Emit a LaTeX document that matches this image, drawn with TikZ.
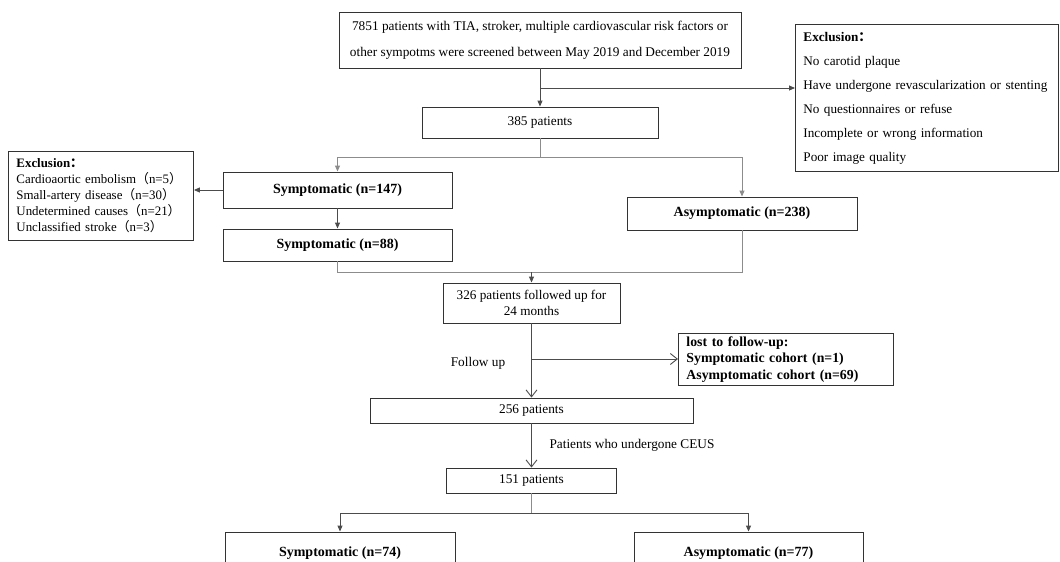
\documentclass[tikz,border=0pt]{standalone}
\usepackage{fontspec}
\setmainfont{Liberation Serif}
\newfontfamily\cjkfont{Noto Sans CJK SC}
\usetikzlibrary{arrows.meta}

\newcommand{\fwl}{{\cjkfont （}}
\newcommand{\fwr}{{\cjkfont ）}}
\newcommand{\fwc}{{\cjkfont ：}}

\begin{document}
\begin{tikzpicture}[x=1pt, y=-1pt,
  box/.style={rectangle, draw=black!80, line width=0.9pt, fill=white, inner sep=0pt, align=center, font=\fontsize{13.3}{16}\selectfont},
  boldbox/.style={box, font=\fontsize{14}{16}\selectfont\bfseries},
  listbox/.style={box, align=left, anchor=north west, inner xsep=8pt},
  line/.style={draw=black!70, line width=0.9pt},
  grayline/.style={draw=black!45, line width=0.9pt},
  arr/.style={line, -{Triangle[length=6pt, width=5pt]}},
  garr/.style={grayline, -{Triangle[length=6pt, width=5pt]}},
  varr/.style={line, -{Straight Barb[length=7pt, width=11pt]}},
  lbl/.style={font=\fontsize{13.3}{16}\selectfont}
]
\useasboundingbox (0,0) rectangle (1060,562);
\clip (0,0) rectangle (1060,562);

% Boxes
\node[box, minimum width=402pt, minimum height=56pt, font=\fontsize{13.3}{26}\selectfont] (screen) at (540,40)
  {7851 patients with TIA, stroker, multiple cardiovascular risk factors or\\other sympotms were screened between May 2019 and December 2019};

\node[listbox, text width=247pt, minimum height=147pt, font=\fontsize{13.2}{24}\selectfont] (exclR) at (795,24) {
  \textbf{Exclusion\fwc}\\
  No carotid plaque\\
  Have undergone revascularization or stenting\\
  No questionnaires or refuse\\
  Incomplete or wrong information\\
  Poor image quality
};

\node[box, minimum width=236pt, minimum height=31pt] (p385) at (540,122.5) {385 patients};

\node[boldbox, minimum width=229pt, minimum height=36pt] (sym147) at (337.5,190) {Symptomatic (n=147)};
\node[boldbox, minimum width=229pt, minimum height=32pt] (sym88) at (337.5,245) {Symptomatic (n=88)};
\node[boldbox, minimum width=230pt, minimum height=33pt] (asym238) at (742,213.5) {Asymptomatic (n=238)};

\node[listbox, text width=169pt, minimum height=89pt, font=\fontsize{12.9}{16}\selectfont] (exclL) at (8,151) {
  \textbf{Exclusion\fwc}\\
  Cardioaortic embolism\fwl n=5\fwr\\
  Small-artery disease\fwl n=30\fwr\\
  Undetermined causes\fwl n=21\fwr\\
  Unclassified stroke\fwl n=3\fwr
};

\node[box, minimum width=177pt, minimum height=40pt, font=\fontsize{13.2}{16}\selectfont] (p326) at (531.5,303)
  {326 patients followed up for\\24 months};

\node[listbox, text width=199pt, minimum height=52pt, font=\fontsize{13.8}{16.5}\selectfont\bfseries] (lost) at (678,333) {
  lost to follow-up:\\
  Symptomatic cohort (n=1)\\
  Asymptomatic cohort (n=69)
};

\node[box, minimum width=323pt, minimum height=25pt] (p256) at (531.5,410.5) {256 patients};
\node[box, minimum width=170pt, minimum height=25pt] (p151) at (531.5,480.5) {151 patients};

\node[boldbox, minimum width=230pt, minimum height=43pt] (sym74) at (340,553.5) {Symptomatic (n=74)};
\node[boldbox, minimum width=229pt, minimum height=43pt] (asym77) at (748.5,553.5) {Asymptomatic (n=77)};

% Labels
\node[lbl] (fu) at (478,363) {Follow up};
\node[lbl, anchor=west] (ceus) at (546,445) {Patients who undergone CEUS};

% Connections
\coordinate (b1) at (540,88);
\draw[arr] (screen) -- (p385);
\draw[arr] (b1) -- (b1 -| exclR.west);

\coordinate (s1) at (540,157);
\draw[grayline] (p385) -- (s1);
\draw[garr] (s1) -| (sym147);
\draw[garr] (s1) -| (asym238);
\draw[arr] (sym147.west) -- (sym147.west -| exclL.east);
\draw[arr] (sym147) -- (sym88);

\coordinate (m1) at (531.5,272);
\draw[grayline] (sym88) |- (asym238.south |- m1) -- (asym238);
\draw[arr] (m1) -- (p326);

\coordinate (f1) at (531.5,359);
\draw[varr] (p326) -- (p256);
\draw[varr] (f1) -- (f1 -| lost.west);
\draw[varr] (p256) -- (p151);

\coordinate (s2) at (531.5,513);
\draw[grayline] (p151) -- (s2);
\draw[arr] (s2) -| (sym74);
\draw[arr] (s2) -| (asym77);

\end{tikzpicture}
\end{document}
